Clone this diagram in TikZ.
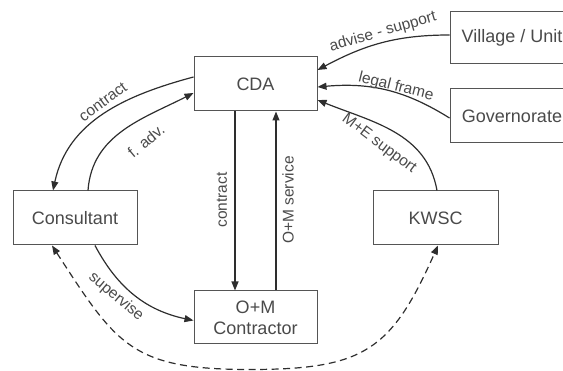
\documentclass[tikz,border=0pt]{standalone}
\usepackage{fontspec}
\setmainfont{Liberation Sans}
\usetikzlibrary{arrows.meta,calc}
\definecolor{inkgray}{HTML}{4A4A4A}
\definecolor{linegray}{HTML}{2E2E2E}
\definecolor{boxgray}{HTML}{555555}
\tikzset{
  box/.style={draw=boxgray, line width=1pt, fill=white, minimum width=123pt,
    minimum height=54pt, inner sep=0pt, text=inkgray, align=center,
    font=\fontsize{18}{21}\selectfont},
  flow/.style={draw=linegray, line width=1.2pt,
    -{Triangle[length=9pt,width=7pt]}},
  twoway/.style={flow, {Triangle[length=9pt,width=7pt]}-{Triangle[length=9pt,width=7pt]},
    dash pattern=on 7pt off 4.5pt},
  lbl/.style={text=inkgray, inner sep=0pt, font=\fontsize{15.5}{17}\selectfont}
}
\begin{document}
\begin{tikzpicture}[x=1pt,y=1pt]
  \useasboundingbox (0,0) rectangle (563,-371);
  \clip (0,0) rectangle (563,-371);

  % actors
  \node[box] (cda)  at (255.5,-84)   {CDA};
  \node[box, minimum width=124pt, minimum height=52pt] (vil) at (512,-38) {Village / Unit};
  \node[box, minimum width=124pt] (gov) at (512,-116) {Governorate};
  \node[box, minimum width=124pt] (cons) at (75,-218) {Consultant};
  \node[box, minimum width=125pt] (kwsc) at (435.5,-218) {KWSC};
  \node[box, minimum height=53pt] (om) at (255.5,-317.5) {O+M\\Contractor};

  % relations on the left
  \draw[flow] ([yshift=7pt]cda.west) to[out=195,in=78] ([xshift=-22pt]cons.north);
  \draw[flow] ([xshift=13pt]cons.north) to[out=86,in=207] ([yshift=-9pt]cda.west);
  \draw[flow] ([xshift=20pt]cons.south) to[out=-62,in=168] ([yshift=-3pt]om.west);

  % contract and service between CDA and contractor
  \draw[flow] ([xshift=-20.5pt]cda.south) -- ([xshift=-20.5pt]om.north);
  \draw[flow] ([xshift=20.5pt]om.north) -- ([xshift=20.5pt]cda.south);

  % relations on the right
  \draw[flow] ([yshift=3pt]vil.west) to[out=180,in=28] ([yshift=14pt]cda.east);
  \draw[flow] ([yshift=-2pt]gov.west) to[out=148,in=5] ([yshift=-3pt]cda.east);
  \draw[flow] ([xshift=1.5pt]kwsc.north) to[out=100,in=-22] ([yshift=-16pt]cda.east);

  % consultant and KWSC, passing below the contractor
  \coordinate (low) at (250,-369.5);
  \draw[twoway] ([xshift=-23pt]cons.south) to[out=-57,in=180,looseness=1.3] (low)
    to[out=0,in=-114,looseness=1.3] ([xshift=2.5pt]kwsc.south);

  % labels
  \node[lbl, rotate=36]  (lcontract) at (103,-102) {contract};
  \node[lbl, rotate=40]  (ladv)      at (146,-141) {f. adv.};
  \node[lbl, rotate=-40] (lsup)      at (116,-297) {supervise};
  \node[lbl, rotate=90]  (lcon)      at (222,-200) {contract};
  \node[lbl, rotate=90]  (lserv)     at (288,-200) {O+M service};
  \node[lbl, rotate=16]  (ladvise)   at (383,-32)  {advise - support};
  \node[lbl, rotate=-14] (llegal)    at (396,-87)  {legal frame};
  \node[lbl, rotate=-37] (lme)       at (379,-144) {M+E support};
\end{tikzpicture}
\end{document}
